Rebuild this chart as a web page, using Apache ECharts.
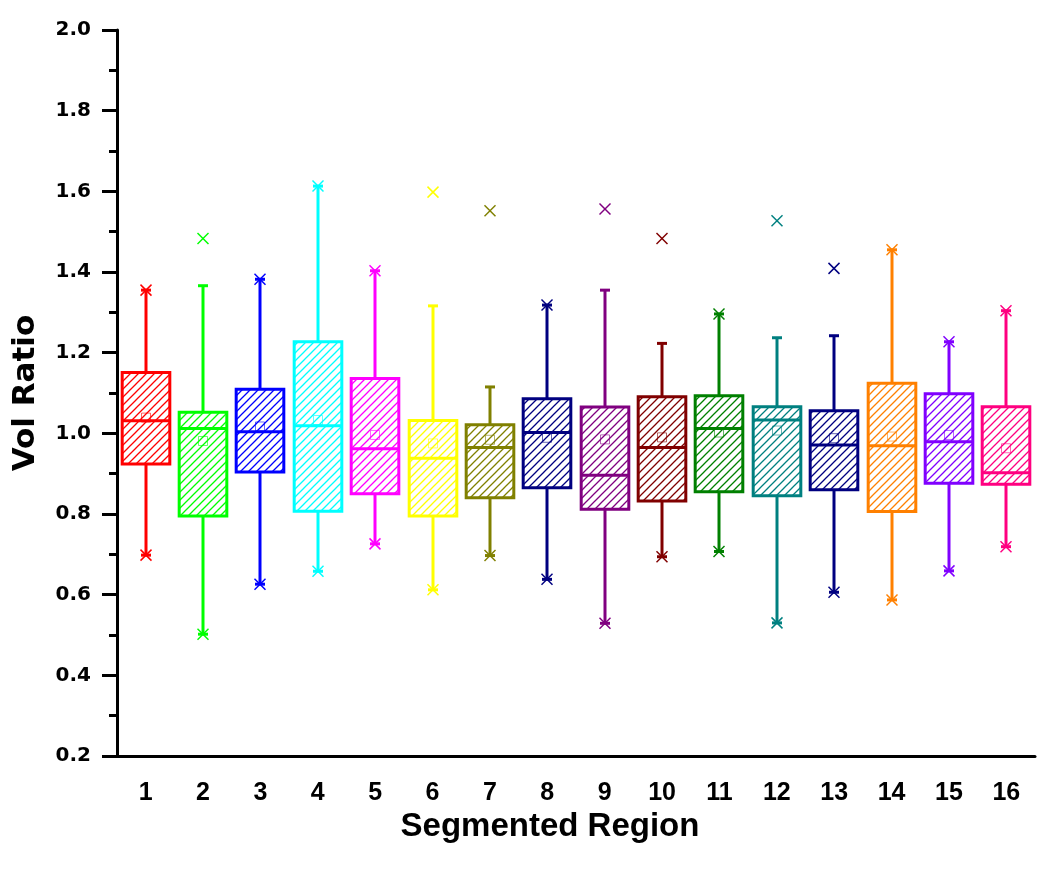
<!DOCTYPE html>
<html><head><meta charset="utf-8">
<script src="https://cdn.jsdelivr.net/npm/echarts@6/dist/echarts.min.js"></script>
<style>html,body{margin:0;padding:0;background:#fff}#c{width:1050px;height:869px}</style>
</head><body><div id="c"></div>
<script>
// ---- data ----
const categories = ['1','2','3','4','5','6','7','8','9','10','11','12','13','14','15','16'];
const whiskerLow  = [0.698,0.502,0.626,0.658,0.726,0.612,0.697,0.638,0.529,0.694,0.707,0.530,0.606,0.587,0.659,0.719];
const q1          = [0.924,0.795,0.904,0.807,0.850,0.795,0.840,0.865,0.812,0.832,0.855,0.845,0.860,0.806,0.876,0.874];
const median      = [1.031,1.012,1.004,1.019,0.962,0.938,0.965,1.002,0.896,0.965,1.012,1.033,0.971,0.969,0.979,0.902];
const q3          = [1.151,1.052,1.109,1.227,1.136,1.032,1.021,1.086,1.065,1.091,1.093,1.066,1.056,1.124,1.098,1.066];
const whiskerHigh = [1.355,1.366,1.382,1.613,1.403,1.316,1.115,1.318,1.355,1.223,1.296,1.237,1.242,1.455,1.227,1.304];
const means       = [1.039,0.981,1.017,1.033,0.996,0.975,0.984,0.989,0.985,0.990,1.002,1.007,0.988,0.992,0.996,0.963];
const crossHigh   = [1.355,1.483,1.382,1.613,1.403,1.598,1.552,1.318,1.556,1.483,1.296,1.527,1.409,1.455,1.227,1.304];
const crossLow    = [0.698,0.502,0.626,0.658,0.726,0.612,0.697,0.638,0.529,0.694,0.707,0.530,0.606,0.587,0.659,0.719];
const colors = ['#FF0000','#00FF00','#0000FF','#00FFFF','#FF00FF','#FFFF00','#808000','#000080',
                '#800080','#800000','#008000','#008080','#000080','#FF8000','#8000FF','#FF0080'];
const yMin = 0.2, yMax = 2.0, yStep = 0.2;

// ---- hatch patterns ----
function makeHatch(color) {
  const s = 8;
  const c = document.createElement('canvas');
  c.width = s; c.height = s;
  const g = c.getContext('2d');
  g.strokeStyle = color; g.lineWidth = 1.3;
  g.beginPath();
  g.moveTo(0, s); g.lineTo(s, 0);
  g.moveTo(-2, 2); g.lineTo(2, -2);
  g.moveTo(s - 2, s + 2); g.lineTo(s + 2, s - 2);
  g.stroke();
  return { type: 'pattern', image: c, repeat: 'repeat' };
}
const patterns = colors.map(makeHatch);

const boxData = categories.map((c, i) => [i, whiskerLow[i], q1[i], median[i], q3[i], whiskerHigh[i]]);
const meanData = categories.map((c, i) => [i, means[i]]);
const crossData = [];
categories.forEach((c, i) => { crossData.push([i, crossHigh[i]]); crossData.push([i, crossLow[i]]); });

function renderBox(params, api) {
  const i = api.value(0);
  const pLow = api.coord([i, api.value(1)]);
  const pQ1 = api.coord([i, api.value(2)]);
  const pMed = api.coord([i, api.value(3)]);
  const pQ3 = api.coord([i, api.value(4)]);
  const pHigh = api.coord([i, api.value(5)]);
  const band = api.size([1, 0])[0];
  const w = band * 0.83;
  const cx = Math.round(pMed[0]);
  const col = colors[i];
  const lw = 3, cap = 5;
  return { type: 'group', children: [
    { type: 'line', shape: { x1: cx, y1: pQ3[1], x2: cx, y2: pHigh[1] }, style: { stroke: col, lineWidth: lw } },
    { type: 'line', shape: { x1: cx, y1: pQ1[1], x2: cx, y2: pLow[1] }, style: { stroke: col, lineWidth: lw } },
    { type: 'line', shape: { x1: cx - cap, y1: pHigh[1], x2: cx + cap, y2: pHigh[1] }, style: { stroke: col, lineWidth: lw } },
    { type: 'line', shape: { x1: cx - cap, y1: pLow[1], x2: cx + cap, y2: pLow[1] }, style: { stroke: col, lineWidth: lw } },
    { type: 'rect', shape: { x: cx - w / 2, y: pQ3[1], width: w, height: pQ1[1] - pQ3[1] },
      style: { fill: patterns[i], stroke: col, lineWidth: lw } },
    { type: 'line', shape: { x1: cx - w / 2, y1: pMed[1], x2: cx + w / 2, y2: pMed[1] }, style: { stroke: col, lineWidth: lw } }
  ]};
}
function renderMean(params, api) {
  const i = api.value(0);
  const p = api.coord([i, api.value(1)]);
  const s = 9;
  return { type: 'rect', shape: { x: Math.round(p[0]) - s / 2, y: p[1] - s / 2, width: s, height: s },
    style: { fill: 'none', stroke: colors[i], lineWidth: 1, opacity: 0.6 } };
}
function renderCross(params, api) {
  const i = api.value(0);
  const p = api.coord([i, api.value(1)]);
  const h = 5.5, cx = Math.round(p[0]);
  return { type: 'group', children: [
    { type: 'line', shape: { x1: cx - h, y1: p[1] - h, x2: cx + h, y2: p[1] + h }, style: { stroke: colors[i], lineWidth: 1.5 } },
    { type: 'line', shape: { x1: cx - h, y1: p[1] + h, x2: cx + h, y2: p[1] - h }, style: { stroke: colors[i], lineWidth: 1.5 } }
  ]};
}

const chart = echarts.init(document.getElementById('c'), null, { renderer: 'canvas' });
chart.setOption({
  animation: false,
  backgroundColor: '#fff',
  grid: { left: 117, right: 15, top: 30, bottom: 113, containLabel: false, outerBoundsMode: 'none' },
  xAxis: {
    type: 'category', data: categories, boundaryGap: true,
    axisLine: { lineStyle: { color: '#000', width: 3 } },
    axisTick: { alignWithLabel: true, length: 14, lineStyle: { color: '#000', width: 3 } },
    axisLabel: { color: '#000', fontFamily: 'Liberation Sans', fontWeight: 'bold', fontSize: 25, margin: 25, interval: 0 },
    splitLine: { show: false },
    name: 'Segmented Region', nameLocation: 'middle', nameGap: 52,
    nameTextStyle: { color: '#000', fontFamily: 'Liberation Sans', fontWeight: 'bold', fontSize: 33, padding: [0, 52, 0, 0] }
  },
  yAxis: {
    type: 'value', min: yMin, max: yMax, interval: yStep,
    axisLine: { show: true, lineStyle: { color: '#000', width: 3 } },
    axisTick: { show: true, length: 15, lineStyle: { color: '#000', width: 3 } },
    minorTick: { show: true, splitNumber: 2, length: 8, lineStyle: { color: '#000', width: 3 } },
    splitLine: { show: false },
    axisLabel: { color: '#000', fontFamily: 'DejaVu Sans', fontWeight: 'bold', fontSize: 20, margin: 26,
      formatter: v => v.toFixed(1) },
    name: 'Vol Ratio', nameLocation: 'middle', nameGap: 76,
    nameTextStyle: { color: '#000', fontFamily: 'DejaVu Sans', fontWeight: 'bold', fontSize: 31 }
  },
  series: [
    { type: 'custom', renderItem: renderBox, data: boxData, encode: { x: 0, y: [1, 2, 3, 4, 5] }, z: 2 },
    { type: 'custom', renderItem: renderMean, data: meanData, encode: { x: 0, y: 1 }, z: 3 },
    { type: 'custom', renderItem: renderCross, data: crossData, encode: { x: 0, y: 1 }, z: 4 }
  ]
});
</script>
</body></html>
